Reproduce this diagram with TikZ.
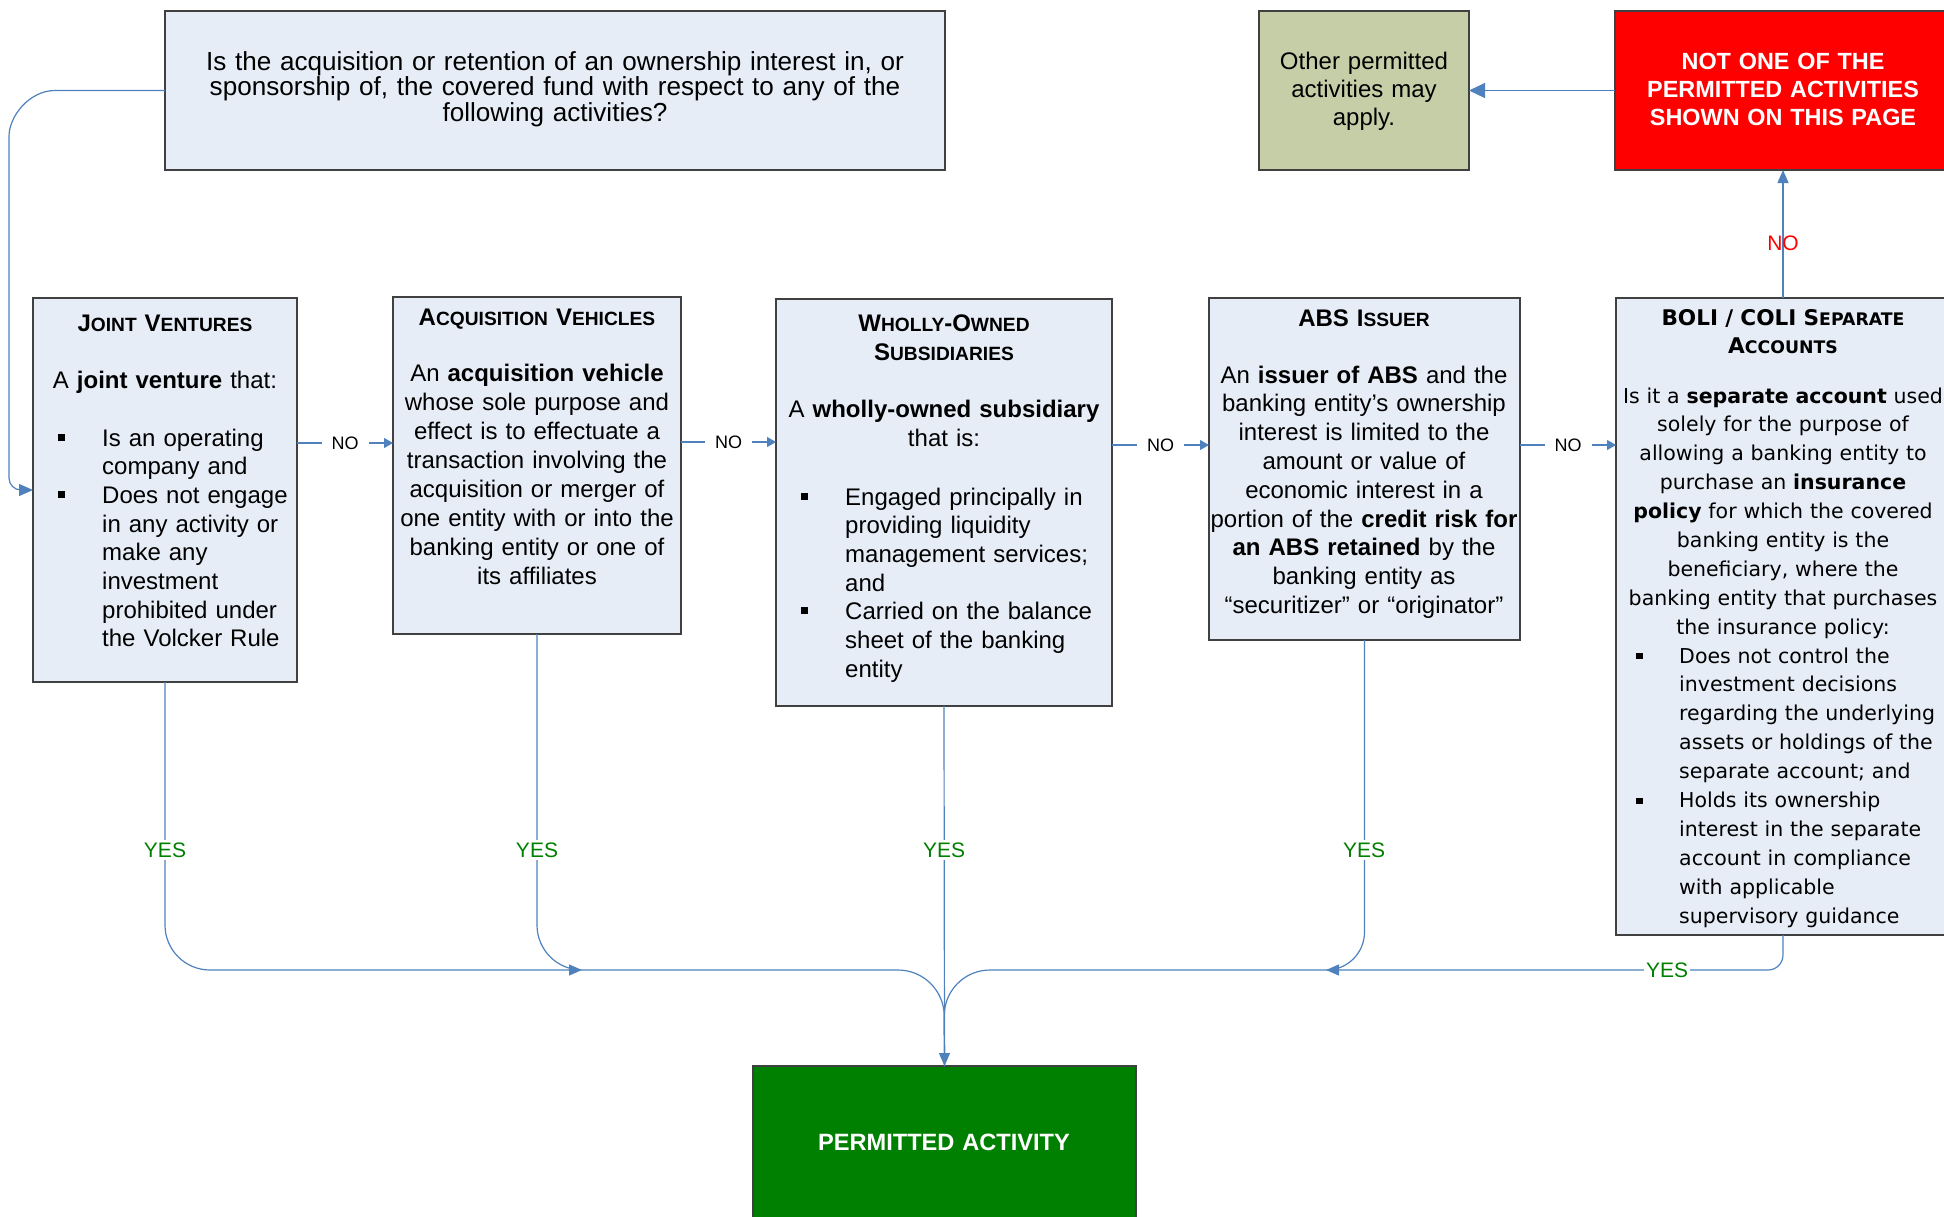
\documentclass[tikz,border=0pt]{standalone}
\usepackage{fontspec}
\setmainfont{Liberation Sans}
\newfontfamily\vfont{DejaVu Sans}
\usetikzlibrary{arrows.meta}
\definecolor{boxfill}{HTML}{E7EDF7}
\definecolor{boxline}{HTML}{404040}
\definecolor{connblue}{HTML}{4F81BD}
\definecolor{olivefill}{HTML}{C6CEA8}
\definecolor{yesgreen}{HTML}{008000}
\definecolor{pagred}{HTML}{FF0000}
\newcommand\smcA[1]{{\fontsize{19.2}{10}\selectfont #1}}
\newcommand\smcB[1]{{\fontsize{17.3}{10}\selectfont #1}}
\newcommand\bltA{\leavevmode\llap{\raisebox{5.5pt}{\rule{7pt}{7pt}}\hspace{37pt}}}
\newcommand\bltB{\leavevmode\llap{\raisebox{4pt}{\rule{7pt}{6pt}}\hspace{36pt}}}
\lineskiplimit=-1000pt
\begin{document}
\begin{tikzpicture}[x={(1pt,0pt)}, y={(0pt,-1pt)},
  box/.style={draw=boxline, line width=1.3pt, fill=boxfill, anchor=north west, inner sep=0pt, outer sep=0pt},
  conn/.style={draw=connblue, line width=1.2pt},
  body/.style={inner sep=0pt, text width=440pt, align=center, anchor=base, font=\fontsize{24}{28.8}\selectfont},
  ttl/.style={inner sep=0pt, text width=440pt, align=center, anchor=base, font=\fontsize{24}{29}\selectfont\bfseries},
  bul/.style={inner sep=0pt, text width=330pt, align=left, anchor=base west, font=\fontsize{24}{28.7}\selectfont},
  vbody/.style={inner sep=0pt, text width=440pt, align=center, anchor=base, font=\vfont\fontsize{20.5}{28.9}\selectfont},
  vbul/.style={inner sep=0pt, text width=330pt, align=left, anchor=base west, font=\vfont\fontsize{20.5}{28.9}\selectfont},
  vttl/.style={inner sep=0pt, text width=440pt, align=center, anchor=base, font=\vfont\fontsize{21.6}{28}\selectfont\bfseries},
  nolab/.style={fill=white, inner xsep=10pt, inner ysep=2pt, font=\fontsize{18}{20}\selectfont},
  yes/.style={fill=white, inner xsep=2pt, inner ysep=3pt, text=yesgreen, font=\fontsize{21}{22}\selectfont},
  nored/.style={inner sep=0pt, text=pagred, font=\fontsize{21}{22}\selectfont},
  smallarr/.style={-{Triangle[length=9pt,width=10pt]}},
  arr/.style={-{Triangle[length=13pt,width=11pt]}}
]
\useasboundingbox (0,0) rectangle (1944,1216);

% boxes
\node[box, minimum width=780, minimum height=159] (q) at (165,11) {};
\node[box, fill=olivefill, minimum width=210, minimum height=159] (ol) at (1259,11) {};
\node[box, fill=pagred, minimum width=336, minimum height=159] (red) at (1615,11) {};
\node[box, minimum width=264, minimum height=384] (jv) at (33,298) {};
\node[box, minimum width=288, minimum height=337] (av) at (393,297) {};
\node[box, minimum width=336, minimum height=407] (wo) at (776,299) {};
\node[box, minimum width=311, minimum height=342] (abs) at (1209,298) {};
\node[box, minimum width=334, minimum height=637] (bo) at (1616,298) {};
\node[box, fill=yesgreen, minimum width=383, minimum height=152] (pa) at (753,1066) {};

% texts
\node[body, font=\fontsize{26.1}{24.2}\selectfont, text width=760pt] (qt) at (555,70.5)
  {Is the acquisition or retention of an ownership interest in, or\\ sponsorship of, the covered fund with respect to any of the\\ following activities?};
\node[body, font=\fontsize{24}{28}\selectfont] (olt) at (1364,69) {Other permitted\\ activities may\\ apply.};
\node[body, text=white, font=\fontsize{23.4}{28}\selectfont\bfseries] (redt) at (1783,69) {NOT ONE OF THE\\ PERMITTED ACTIVITIES\\ SHOWN ON THIS PAGE};

\node[ttl] (jvh) at (165,331) {J\smcA{OINT} V\smcA{ENTURES}};
\node[body] (jvb) at (165,388) {A \textbf{joint venture} that:};
\node[bul] (jvl) at (102,446) {\bltA Is an operating\\ company and\\ \bltA Does not engage\\ in any activity or\\ make any\\ investment\\ prohibited under\\ the Volcker Rule};

\node[ttl] (avh) at (537,325) {A\smcA{CQUISITION} V\smcA{EHICLES}};
\node[body, font=\fontsize{24}{29}\selectfont] (avb) at (537,381) {An \textbf{acquisition vehicle}\\ whose sole purpose and\\ effect is to effectuate a\\ transaction involving the\\ acquisition or merger of\\ one entity with or into the\\ banking entity or one of\\ its affiliates};

\node[ttl] (woh) at (944,331) {W\smcA{HOLLY}-O\smcA{WNED}\\ S\smcA{UBSIDIARIES}};
\node[body, font=\fontsize{24}{29}\selectfont] (wob) at (944,417) {A \textbf{wholly-owned subsidiary}\\ that is:};
\node[bul] (wol) at (845,505) {\bltA Engaged principally in\\ providing liquidity\\ management services;\\ and\\ \bltA Carried on the balance\\ sheet of the banking\\ entity};

\node[ttl] (absh) at (1364,326) {ABS I\smcA{SSUER}};
\node[body] (absb) at (1364,383) {An \textbf{issuer of ABS} and the\\ banking entity’s ownership\\ interest is limited to the\\ amount or value of\\ economic interest in a\\ portion of the \textbf{credit risk for}\\ \textbf{an ABS retained} by the\\ banking entity as\\ “securitizer” or “originator”};

\node[vttl] (boh) at (1783,325) {BOLI / COLI S\smcB{EPARATE}\\ A\smcB{CCOUNTS}};
\node[vbody] (bob) at (1783,403) {Is it a \textbf{separate account} used\\ solely for the purpose of\\ allowing a banking entity to\\ purchase an \textbf{insurance}\\ \textbf{policy} for which the covered\\ banking entity is the\\ beneficiary, where the\\ banking entity that purchases\\ the insurance policy:};
\node[vbul] (bol) at (1679,663) {\bltB Does not control the\\ investment decisions\\ regarding the underlying\\ assets or holdings of the\\ separate account; and\\ \bltB Holds its ownership\\ interest in the separate\\ account in compliance\\ with applicable\\ supervisory guidance};

\node[body, text=white, font=\fontsize{23.6}{28}\selectfont\bfseries] (pat) at (944,1150) {PERMITTED ACTIVITY};

% merge points
\coordinate (mL) at (582,970);
\coordinate (mR) at (1326,970);

% connectors
\draw[conn, -{Triangle[length=14pt,width=12pt]}] (q.west) -- (55,90.5)
  .. controls (29.6,90.5) and (9,115.9) .. (9,136.5) -- (9,478)
  .. controls (9,484.6) and (14.4,490) .. (21,490) -- (jv.west |- 0,490);

\draw[conn, smallarr] (jv.east |- 0,443) -- node[nolab] (n1) {NO} (av.west |- 0,443);
\draw[conn, smallarr] (av.east |- 0,442) -- node[nolab] (n2) {NO} (wo.west |- 0,442);
\draw[conn, smallarr] (wo.east |- 0,445) -- node[nolab] (n3) {NO} (abs.west |- 0,445);
\draw[conn, smallarr] (abs.east |- 0,445) -- node[nolab] (n4) {NO} (bo.west |- 0,445);

\draw[conn, arr] (bo.north) -- (red.south);
\node[nored] (n5) at (1783,243) {NO};
\draw[conn, -{Triangle[length=16pt,width=15pt]}] (red.west) -- (ol.east);

\draw[conn, rounded corners=45, arr] (jv.south) -- (jv.south |- mL) -- (mL);
\draw[conn, rounded corners=45] (av.south) -- (av.south |- mL) -- (mL);
\draw[conn, rounded corners=46] (mL) -- (wo.south |- mL) -- (pa.north);
\draw[conn, rounded corners=46] (mR) -- (wo.south |- mR) -- (pa.north);
\draw[conn, arr] (wo.south) -- (pa.north);
\draw[conn, rounded corners=38] (abs.south) -- (abs.south |- mR) -- (mR);
\draw[conn, rounded corners=15, arr] (bo.south) -- (bo.south |- mR) -- (mR);

\node[yes] (y1) at (165,850) {YES};
\node[yes] (y2) at (537,850) {YES};
\node[yes] (y3) at (944,850) {YES};
\node[yes] (y4) at (1364,850) {YES};
\node[yes] (y5) at (1667,970) {YES};
\end{tikzpicture}
\end{document}
